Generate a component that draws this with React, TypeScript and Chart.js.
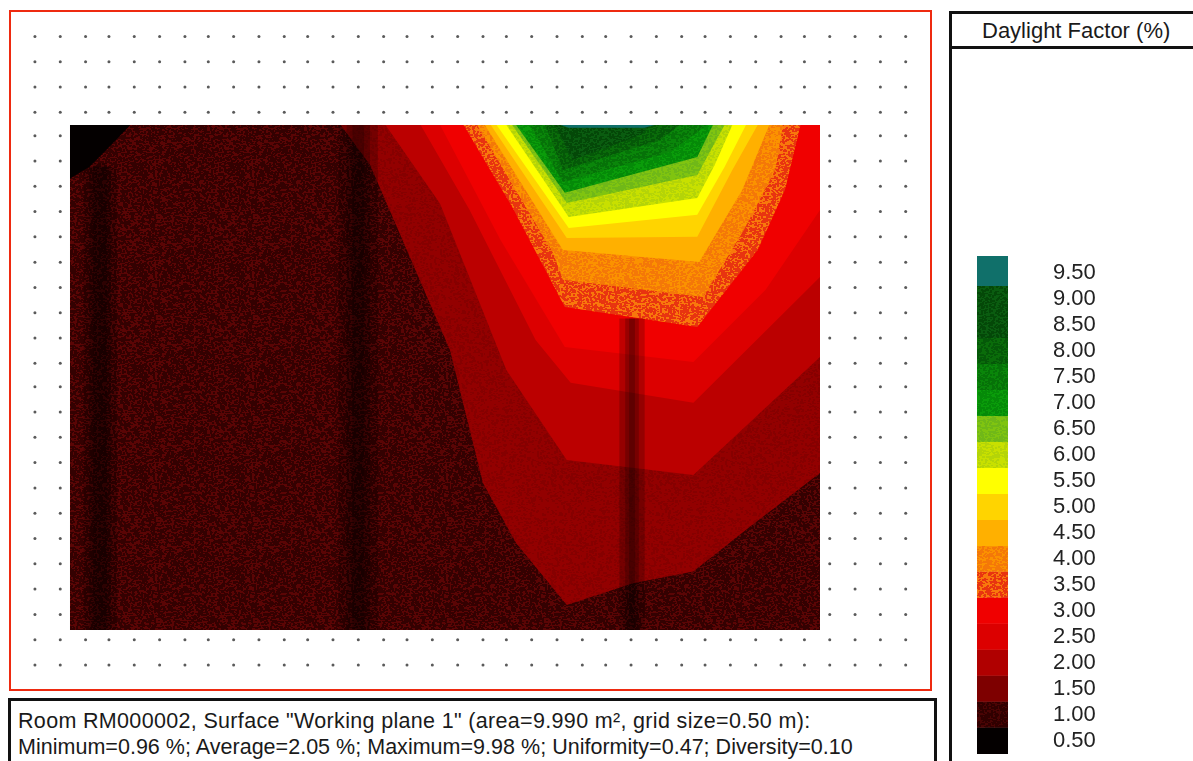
import React, { useEffect, useRef } from "react";
import { Chart } from "chart.js/auto";

// Legend: contour levels (%) and block limits
const legendLevels = [9.5, 9.0, 8.5, 8.0, 7.5, 7.0, 6.5, 6.0, 5.5, 5.0, 4.5, 4.0, 3.5, 3.0, 2.5, 2.0, 1.5, 1.0, 0.5];
const legendBlocks: [number, number][] = [
  [9.25, 9.82], [8.75, 9.25], [8.25, 8.75], [7.75, 8.25], [7.25, 7.75], [6.75, 7.25], [6.25, 6.75],
  [5.75, 6.25], [5.25, 5.75], [4.75, 5.25], [4.25, 4.75], [3.75, 4.25], [3.25, 3.75], [2.75, 3.25],
  [2.25, 2.75], [1.75, 2.25], [1.25, 1.75], [0.75, 1.25], [0.24, 0.75],
];

// Calculation grid, metres
const gridX = [-0.18, -0.05, 0.08, 0.2, 0.33, 0.46, 0.59, 0.71, 0.84, 0.97, 1.1, 1.22, 1.35, 1.48, 1.61, 1.73, 1.86, 1.99, 2.12, 2.24, 2.37, 2.5, 2.63, 2.75, 2.88, 3.01, 3.14, 3.26, 3.39, 3.52, 3.65, 3.77, 3.9, 4.03, 4.16, 4.29];
const gridY = [3.05, 2.92, 2.79, 2.66, 2.54, 2.41, 2.28, 2.15, 2.02, 1.89, 1.76, 1.63, 1.5, 1.37, 1.25, 1.12, 0.99, 0.86, 0.73, 0.6, 0.47, 0.34, 0.21, 0.08, -0.05, -0.18];

// Contour regions, metres
type P = [number, number];
const room: P[] = [[0, 0], [3.85, 0], [3.85, 2.595], [0, 2.595]];
const level05: P[] = [[0, 2.595], [0.31, 2.595], [0.19, 2.47], [0.1, 2.38], [0, 2.32]];
const level15: P[] = [[1.39, 2.595], [1.54, 2.39], [1.95, 1.44], [2.12, 0.755], [2.29, 0.447], [2.55, 0.128], [2.89, 0.24], [3.2, 0.3], [3.49, 0.53], [3.85, 0.807], [3.85, 2.595]];
const level20: P[] = [[1.62, 2.595], [1.9, 2.19], [2.24, 1.336], [2.55, 0.874], [3.2, 0.797], [3.85, 1.403], [3.85, 2.595]];
const level25: P[] = [[1.8, 2.595], [2.05, 2.16], [2.39, 1.49], [2.57, 1.27], [3.2, 1.167], [3.85, 1.814], [3.85, 2.595]];
const level30: P[] = [[1.9, 2.595], [2.21, 2.004], [2.54, 1.454], [3.2, 1.377], [3.57, 1.747], [3.85, 2.158], [3.85, 2.595]];
const level35: P[] = [[2.02, 2.595], [2.27, 2.174], [2.54, 1.66], [3.22, 1.557], [3.53, 1.953], [3.67, 2.261], [3.75, 2.595]];
const level40: P[] = [[2.09, 2.595], [2.48, 1.937], [2.53, 1.799], [3.25, 1.711], [3.46, 2.056], [3.62, 2.364], [3.66, 2.595]];
const level45: P[] = [[2.13, 2.595], [2.53, 1.953], [3.23, 1.891], [3.45, 2.26], [3.59, 2.595]];
const level50: P[] = [[2.16, 2.595], [2.55, 2.014], [3.22, 2.02], [3.4, 2.364], [3.53, 2.595]];
const level55: P[] = [[2.19, 2.595], [2.56, 2.066], [3.22, 2.133], [3.36, 2.379], [3.47, 2.595]];
const level60: P[] = [[2.24, 2.595], [2.56, 2.122], [3.22, 2.22], [3.31, 2.39], [3.4, 2.595]];
const level65: P[] = [[2.27, 2.595], [2.55, 2.194], [3.22, 2.338], [3.36, 2.595]];
const level70: P[] = [[2.29, 2.595], [2.54, 2.246], [3.22, 2.43], [3.3, 2.595]];
const level75: P[] = [[2.36, 2.595], [2.53, 2.302], [3.08, 2.456], [3.27, 2.595]];
const level80: P[] = [[2.44, 2.595], [2.53, 2.364], [3.03, 2.518], [3.13, 2.595]];
const level85: P[] = [[2.49, 2.595], [2.58, 2.415], [2.93, 2.544], [2.98, 2.595]];
const level95: P[] = [[2.52, 2.595], [3.0, 2.595], [2.95, 2.58], [2.56, 2.58]];

// Dark vertical streaks across the room, metres
const streaks: P[][] = [
  [[0.07, 0], [0.24, 0], [0.24, 2.38], [0.07, 2.38]],
  [[0.1, 0], [0.21, 0], [0.21, 2.38], [0.1, 2.38]],
  [[0.12, 0], [0.19, 0], [0.19, 2.4], [0.12, 2.4]],
  [[1.38, 0], [1.58, 0], [1.58, 2.595], [1.38, 2.595]],
  [[1.42, 0], [1.54, 0], [1.54, 2.595], [1.42, 2.595]],
  [[1.45, 0], [1.51, 0], [1.51, 2.595], [1.45, 2.595]],
  [[2.82, 0], [2.95, 0], [2.95, 1.6], [2.82, 1.6]],
  [[2.85, 0], [2.92, 0], [2.92, 1.6], [2.85, 1.6]],
  [[2.87, 0], [2.9, 0], [2.9, 1.6], [2.87, 1.6]],
];

const headerText = "Daylight Factor (%)";
const infoLine1 = 'Room RM000002, Surface "Working plane 1" (area=9.990 m², grid size=0.50 m):';
const infoLine2 = "Minimum=0.96 %; Average=2.05 %; Maximum=9.98 %; Uniformity=0.47; Diversity=0.10";

const FONT = '"Liberation Sans", Arial, sans-serif';

// Print-grain fill texture for a colour band
function grain(base: string, speck: string, amount: number, seed: number): CanvasPattern | string {
  const c = document.createElement("canvas");
  c.width = 97;
  c.height = 101;
  const g = c.getContext("2d");
  if (!g) return base;
  g.fillStyle = base;
  g.fillRect(0, 0, 97, 101);
  g.fillStyle = speck;
  let s = seed;
  for (let y = 0; y < 101; y++) {
    for (let x = 0; x < 97; x++) {
      s = (s * 1103515245 + 12345) & 0x7fffffff;
      if (((s >> 8) % 1000) / 1000 < amount) g.fillRect(x, y, 2, 1 + ((s >> 20) & 1));
    }
  }
  return g.createPattern(c, "repeat") || base;
}

export default function App() {
  const mapRef = useRef<HTMLCanvasElement>(null);
  const legendRef = useRef<HTMLCanvasElement>(null);

  useEffect(() => {
    const c05 = "#040000";
    const c10 = grain("#5a0505", "#340101", 0.3, 11);
    const c15 = grain("#930000", "#860000", 0.15, 12);
    const c20 = "#bb0000";
    const c25 = "#dc0000";
    const c30 = "#f00000";
    const c35 = grain("#f8780c", "#e83410", 0.28, 13);
    const c40 = grain("#fb9200", "#f47808", 0.25, 14);
    const c45 = "#ffb000";
    const c50 = "#ffd400";
    const c55 = "#ffff00";
    const c60 = grain("#c8e000", "#b4d408", 0.2, 15);
    const c65 = grain("#80c410", "#70b818", 0.2, 16);
    const c70 = grain("#0a9c0a", "#058a08", 0.25, 17);
    const c75 = grain("#0a860a", "#067208", 0.25, 18);
    const c80 = grain("#0a6c0a", "#055808", 0.25, 19);
    const c85 = grain("#0a5c10", "#044808", 0.25, 20);
    const c95 = "#10706a";

    const region = (points: P[], fillStyle: CanvasPattern | string) => ({
      type: "scatter" as const,
      data: points.map(([x, y]) => ({ x, y })),
      showLine: true,
      fill: "shape",
      backgroundColor: fillStyle,
      borderWidth: 0,
      borderColor: "rgba(0,0,0,0)",
      pointRadius: 0,
      tension: 0,
    });

    const layers: any[] = [
      {
        type: "scatter",
        data: gridX.flatMap((x) => gridY.map((y) => ({ x, y }))),
        backgroundColor: "#5a5a5a",
        borderWidth: 0,
        pointRadius: 1.5,
        showLine: false,
      },
      region(room, c10),
      region(level05, c05),
      region(level15, c15),
      region(level20, c20),
      region(level25, c25),
      region(level30, c30),
      region(level35, c35),
      region(level40, c40),
      region(level45, c45),
      region(level50, c50),
      region(level55, c55),
      region(level60, c60),
      region(level65, c65),
      region(level70, c70),
      region(level75, c75),
      region(level80, c80),
      region(level85, c85),
      region(level95, c95),
      ...streaks.map((s) => region(s, "rgba(0,0,0,0.2)")),
    ];
    layers.forEach((d, i) => (d.order = layers.length - i));

    const map = new Chart(mapRef.current!, {
      type: "scatter",
      data: { datasets: layers },
      options: {
        animation: false,
        responsive: false,
        devicePixelRatio: 1,
        layout: { padding: 0, autoPadding: false },
        plugins: { legend: { display: false }, tooltip: { enabled: false } },
        events: [],
        scales: {
          x: { type: "linear", display: false, min: -0.3593, max: 4.466 },
          y: { type: "linear", display: false, min: -0.334, max: 3.237 },
        },
      } as any,
    });

    const blockColours = [c95, c85, c85, c80, c75, c70, c65, c60, c55, c50, c45, c40, c35, c30, c25, "#b00000", "#7e0000", grain("#4a0404", "#300000", 0.3, 21), c05];
    const legend = new Chart(legendRef.current!, {
      type: "bar",
      data: {
        labels: ["Daylight Factor"],
        datasets: legendBlocks.map((b, i) => ({
          data: [b],
          backgroundColor: blockColours[i],
          barPercentage: 1,
          categoryPercentage: 1,
          grouped: false,
          borderWidth: 0,
        })),
      } as any,
      options: {
        animation: false,
        responsive: false,
        maintainAspectRatio: false,
        devicePixelRatio: 1,
        layout: { padding: 0, autoPadding: false },
        plugins: { legend: { display: false }, tooltip: { enabled: false } },
        events: [],
        scales: {
          x: { display: false, stacked: true },
          y: {
            position: "right",
            min: 0.24,
            max: 9.82,
            border: { display: false },
            grid: { display: false, drawTicks: false },
            afterBuildTicks: (ax: any) => {
              ax.ticks = legendLevels.map((value) => ({ value }));
            },
            afterFit: (ax: any) => {
              ax.width = 185;
              ax.paddingTop = 0;
              ax.paddingBottom = 0;
            },
            ticks: {
              autoSkip: false,
              padding: 45,
              color: "#222",
              font: { family: FONT, size: 22 },
              callback: (v: number) => Number(v).toFixed(2),
            },
          },
        },
      } as any,
    });

    return () => {
      map.destroy();
      legend.destroy();
    };
  }, []);

  return (
    <div style={{ position: "fixed", left: 0, top: 0, width: 1193, height: 761, overflow: "hidden", background: "#fff", fontFamily: FONT, color: "#1a1a1a" }}>
      <canvas ref={mapRef} width={940} height={695} style={{ position: "absolute", left: 0, top: 0 }} />
      <div style={{ position: "absolute", left: 9, top: 10, width: 923, height: 681, boxSizing: "border-box", border: "2px solid #ee2a10" }} />
      <div style={{ position: "absolute", left: 949, top: 11, width: 260, height: 780, boxSizing: "border-box", border: "3px solid #111" }} />
      <div style={{ position: "absolute", left: 949, top: 46, width: 260, height: 3, background: "#111" }} />
      <div style={{ position: "absolute", left: 982, top: 14, height: 32, lineHeight: "34px", fontSize: 22, whiteSpace: "nowrap" }}>{headerText}</div>
      <canvas ref={legendRef} width={216} height={498} style={{ position: "absolute", left: 977, top: 256 }} />
      <div style={{ position: "absolute", left: 8, top: 698, width: 929, height: 90, boxSizing: "border-box", border: "3px solid #111" }} />
      <div style={{ position: "absolute", left: 18, top: 709, fontSize: 21.5, letterSpacing: 0.33, lineHeight: "25px", whiteSpace: "nowrap" }}>{infoLine1}</div>
      <div style={{ position: "absolute", left: 18, top: 735, fontSize: 21.5, letterSpacing: 0.02, lineHeight: "25px", whiteSpace: "nowrap" }}>{infoLine2}</div>
    </div>
  );
}
